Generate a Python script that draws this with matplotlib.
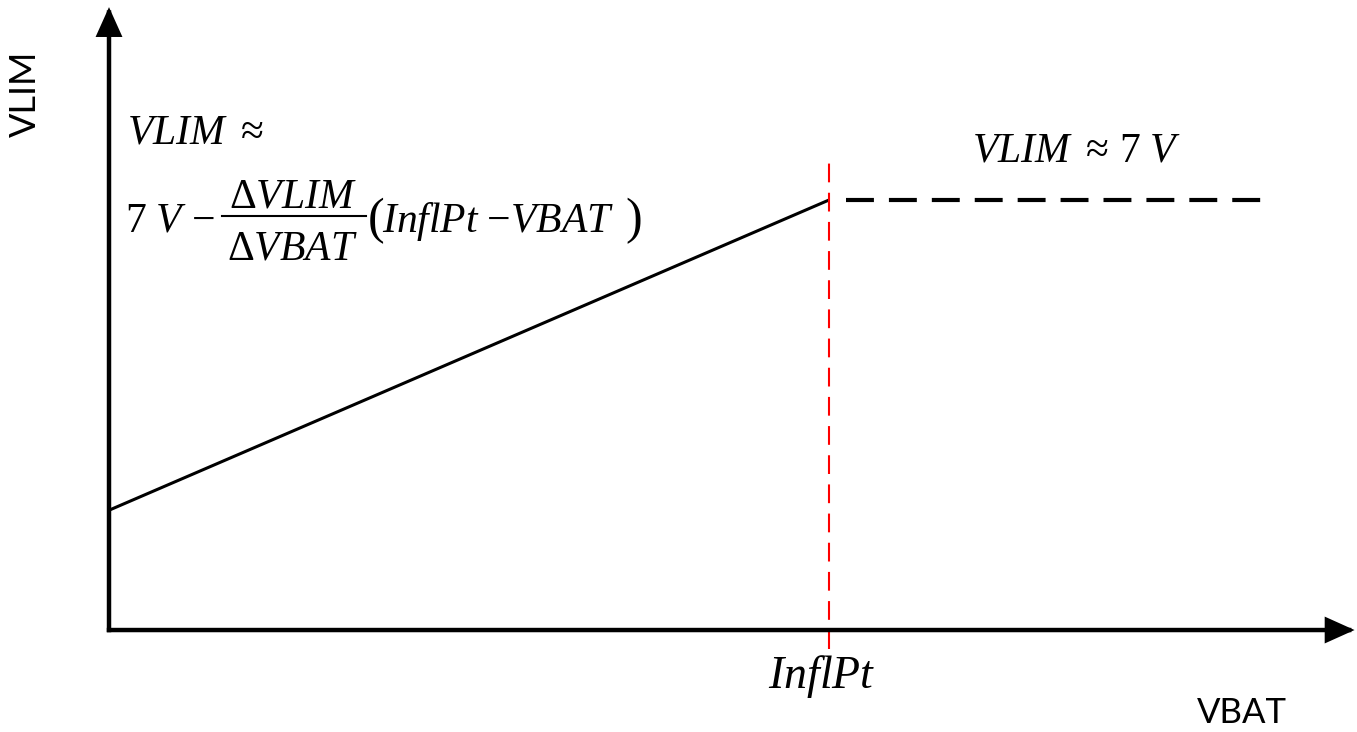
import matplotlib.pyplot as plt

plt.rcParams['mathtext.fontset'] = 'custom'
plt.rcParams['mathtext.rm'] = 'Liberation Serif'
plt.rcParams['mathtext.it'] = 'Liberation Serif:italic'
plt.rcParams['mathtext.bf'] = 'Liberation Serif:bold'

# VBAT / VLIM in arbitrary units, origin at the axes corner
vbat_ramp = [0.0, 5.0]
vlim_ramp = [1.95, 7.0]
vbat_flat = [5.12, 8.0]
vlim_flat = [7.0, 7.0]
inflpt = 5.0
inflpt_span = [-0.31, 7.65]
x_axis_end = 8.65
y_axis_end = 10.14

W, H = 1357, 732
fig = plt.figure(figsize=(W / 100, H / 100), dpi=100)
ax = fig.add_axes([0, 0, 1, 1])
ax.set_xlim(-0.757, 8.667)
ax.set_ylim(-1.66, 10.256)
ax.axis('off')


def ftext(px, py, s, **kw):
	# place annotation text by pixel position (from top-left)
	return fig.text(px / W, 1 - py / H, s, **kw)


# axes with arrow heads
arr = dict(arrowstyle='-|>,head_length=0.8,head_width=0.36', mutation_scale=20,
		   lw=3.2, color='black', shrinkA=0, shrinkB=0, capstyle='projecting',
		   joinstyle='miter')
ax.annotate('', xy=(x_axis_end, 0), xytext=(0, 0), arrowprops=arr)
ax.annotate('', xy=(0, y_axis_end), xytext=(0, 0), arrowprops=arr)

# curves
ax.plot(vbat_ramp, vlim_ramp, color='black', lw=2.2, solid_capstyle='butt')
ax.plot(vbat_flat, vlim_flat, color='black', lw=3.0, dashes=(6.7, 3.6))
ax.plot([inflpt, inflpt], inflpt_span, color='red', lw=1.5, dashes=(9, 5))

# axis names
ftext(25, 94, 'VLIM', rotation=90, family='Lato', fontsize=26,
	  ha='center', va='center')
ftext(1197, 723, 'VBAT', family='Lato', fontsize=25, ha='left', va='baseline')
ftext(822, 688, r'$InflPt$', fontsize=33, ha='center', va='baseline')

# formula, left region
fs = 30
ftext(127, 144, r'$VLIM\ \approx$', fontsize=fs, ha='left', va='baseline')
ftext(125, 232, r'$7\ V\ {-}$', fontsize=fs, ha='left', va='baseline')
ftext(293, 207, r'$\Delta VLIM$', fontsize=fs, ha='center', va='baseline')
fig.add_artist(plt.Line2D([222 / W, 366 / W], [1 - 216 / H, 1 - 216 / H],
						  color='black', lw=1.5))
ftext(292, 260, r'$\Delta VBAT$', fontsize=fs, ha='center', va='baseline')
ftext(367, 233, r'$($', fontsize=fs + 6, ha='left', va='baseline')
ftext(382, 232, r'$InflPt\ {-}VBAT$', fontsize=fs, ha='left', va='baseline')
ftext(625, 233, r'$)$', fontsize=fs + 6, ha='left', va='baseline')

# formula, right region
ftext(972, 162, r'$VLIM\ \approx\,7\ V$', fontsize=fs, ha='left',
	  va='baseline')

fig.savefig('out.png', dpi=100)
